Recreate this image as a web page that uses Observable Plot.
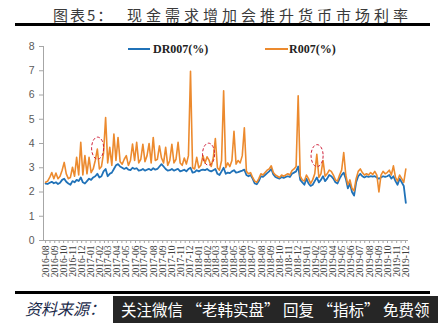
<!DOCTYPE html>
<html><head><meta charset="utf-8">
<script src="https://cdn.jsdelivr.net/npm/d3@7"></script>
<script src="https://cdn.jsdelivr.net/npm/@observablehq/plot@0.6"></script>
<style>
body{margin:0;width:438px;height:323px;position:relative;overflow:hidden;background:#fff;font-family:"Noto Sans CJK SC",sans-serif}
.abs{position:absolute;white-space:nowrap}
#t1{left:53px;top:5px;font-size:15px;letter-spacing:2px;color:#3a3a3a;line-height:19px}
#t2{left:127px;top:5px;font-size:15px;letter-spacing:4px;color:#3a3a3a;line-height:19px}
.rule{position:absolute;left:15px;width:415px;height:3px;background:#000}
#chart{position:absolute;left:0;top:28px}
.leg{position:absolute;font-family:"Liberation Serif",serif;font-weight:bold;font-size:12px;color:#222;top:42px;line-height:14px}
.legline{position:absolute;top:48px;height:2px}
#src{left:25px;top:298px;font-size:16px;font-style:italic;color:#1b2a4a;line-height:20px}
#box{position:absolute;left:113px;top:296px;width:325px;height:27px;background:#262626;color:#fff;font-size:15.5px;line-height:27px;padding-left:8px;box-sizing:border-box;white-space:nowrap}
</style></head><body>
<div class="abs" id="t1">图表5：</div>
<div class="abs" id="t2">现金需求增加会推升货币市场利率</div>
<div class="rule" style="top:23px"></div>
<div id="chart"></div>
<div class="legline" style="left:128px;width:22px;background:#2072B8"></div>
<div class="leg" style="left:153px">DR007(%)</div>
<div class="legline" style="left:265px;width:23px;background:#EC8A2E"></div>
<div class="leg" style="left:289px">R007(%)</div>
<div class="rule" style="top:291px"></div>
<div class="abs" id="src">资料来源：</div>
<div id="box">关注微信 “老韩实盘” 回复 “指标” 免费领</div>
<script>
// weekly readings, starting the week of 2016-08-01
const R007 = [
2.40,2.45,2.60,2.80,2.55,2.78,2.55,2.65,2.90,3.22,
2.75,2.55,2.60,3.02,2.65,3.43,2.70,4.05,2.70,3.50,
2.75,3.43,2.80,2.95,3.30,3.77,2.95,3.05,3.60,5.07,
3.20,3.84,3.10,4.39,3.30,4.25,3.25,3.15,3.35,3.50,
3.10,3.30,3.98,3.30,4.05,3.20,3.35,3.97,3.25,3.50,
4.00,3.20,4.25,3.30,3.35,3.90,3.40,3.20,3.84,3.10,
3.30,3.97,3.20,3.35,4.05,3.20,3.10,3.40,3.15,3.50,
6.98,3.00,2.95,3.43,3.00,3.10,3.50,3.20,3.45,3.30,
3.05,3.40,4.20,3.00,2.90,3.30,6.17,3.00,3.20,3.05,
3.30,4.50,3.15,3.30,3.20,3.50,4.65,2.85,2.75,2.80,
2.60,2.45,2.40,2.55,2.75,2.70,2.80,2.90,2.95,3.08,
2.80,2.70,2.65,2.60,2.70,2.65,2.70,2.75,2.70,2.88,
2.95,3.05,5.97,2.65,2.50,2.45,2.70,2.55,2.35,2.50,
2.75,3.55,2.60,2.75,3.30,2.65,2.75,2.90,2.85,2.70,
2.50,2.45,2.70,2.90,3.63,2.70,2.30,2.50,2.15,2.05,
2.55,2.85,2.95,2.80,2.70,2.75,2.70,2.80,2.72,2.85,
2.70,2.00,2.70,2.85,2.75,2.80,2.90,2.70,3.08,2.60,
2.45,2.70,2.55,2.40,2.95];
const DR007 = [
2.35,2.33,2.38,2.42,2.36,2.40,2.33,2.38,2.50,2.55,
2.42,2.35,2.30,2.45,2.40,2.50,2.45,2.60,2.40,2.35,
2.45,2.55,2.50,2.60,2.65,2.75,2.60,2.65,2.85,2.95,
2.65,2.75,2.80,2.95,3.10,3.15,3.05,3.00,2.95,3.00,
2.92,2.90,3.00,2.95,2.98,2.88,2.90,2.95,2.88,2.92,
2.95,2.90,2.98,2.92,2.95,3.05,3.15,3.05,2.95,2.88,
2.90,2.95,2.88,2.92,2.95,2.85,2.88,2.92,2.85,2.95,
3.00,2.80,2.82,2.90,2.85,2.90,2.92,2.90,2.95,2.88,
2.85,2.90,2.95,2.75,2.70,2.85,3.00,2.75,2.80,2.78,
2.85,2.90,2.80,2.82,2.85,2.88,2.92,2.70,2.65,2.70,
2.55,2.35,2.32,2.45,2.65,2.62,2.70,2.78,2.85,2.95,
2.72,2.62,2.58,2.55,2.62,2.58,2.62,2.65,2.62,2.75,
2.80,2.85,3.05,2.50,2.40,2.30,2.55,2.35,2.25,2.30,
2.45,2.60,2.40,2.50,2.65,2.45,2.55,2.70,2.65,2.55,
2.40,2.35,2.55,2.70,2.80,2.55,2.15,2.35,2.00,1.85,
2.40,2.65,2.75,2.65,2.60,2.65,2.62,2.65,2.63,2.65,
2.60,2.55,2.60,2.65,2.62,2.65,2.70,2.55,2.65,2.45,
2.30,2.55,2.40,2.25,1.55];
const weeks = d3.utcMonday.range(new Date(Date.UTC(2016,7,1)), new Date(Date.UTC(2020,0,1))).slice(0, R007.length);
const yTicks = [0,1,2,3,4,5,6,7,8];
const monthTicks = d3.utcMonth.range(new Date(Date.UTC(2016,7,1)), new Date(Date.UTC(2019,11,2)));
const annoDates = [new Date(Date.UTC(2017,0,24)), new Date(Date.UTC(2018,1,3)), new Date(Date.UTC(2019,1,5))];
const annoValues = [3.81, 3.56, 3.5];

const rows = weeks.map((d,i)=>({date:d, dr:DR007[i], r:R007[i]}));
const halfTicks = monthTicks.map(d => new Date(d.getTime() + 15*864e5)).filter(d => d < new Date(Date.UTC(2019,11,1)));
const allTicks = monthTicks.concat(halfTicks).sort((a,b)=>a-b);
const fmt = d3.utcFormat("%Y-%m");
const ellipse = {draw(ctx, size){
  const r = Math.sqrt(size/Math.PI), rx = r*0.55, ry = r, k = 0.5523;
  ctx.moveTo(rx,0);
  ctx.bezierCurveTo(rx, ry*k, rx*k, ry, 0, ry);
  ctx.bezierCurveTo(-rx*k, ry, -rx, ry*k, -rx, 0);
  ctx.bezierCurveTo(-rx, -ry*k, -rx*k, -ry, 0, -ry);
  ctx.bezierCurveTo(rx*k, -ry, rx, -ry*k, rx, 0);
  ctx.closePath();
}};
const x0 = new Date(Date.UTC(2016,6,25)), x1 = new Date(Date.UTC(2019,11,11));
const plot = Plot.plot({
  width: 438, height: 262,
  marginLeft: 43, marginRight: 30, marginTop: 18, marginBottom: 50,
  x: {type: "utc", domain: [x0, x1]},
  y: {domain: [0, 8]},
  style: {background: "transparent", overflow: "visible"},
  marks: [
    Plot.ruleY([0], {stroke: "#a6a6a6", strokeWidth: 1}),
    Plot.ruleX([x0], {stroke: "#a6a6a6", strokeWidth: 1, y1: 0, y2: 8}),
    Plot.axisY({ticks: yTicks, tickSize: 4, tickPadding: 5, stroke: "#a6a6a6", fill: "#595959", fontSize: 10.5, fontFamily: "Liberation Sans, Arial, sans-serif", label: null}),
    Plot.axisX({ticks: allTicks, tickFormat: d => d.getUTCDate() === 1 ? fmt(d) : "", tickRotate: -90, tickSize: 3, tickPadding: 2, stroke: "#a6a6a6", fill: "#404040", fontSize: 9.5, fontFamily: "Liberation Serif, serif", label: null}),
    Plot.line(rows, {x: "date", y: "dr", stroke: "#2072B8", strokeWidth: 1.8}),
    Plot.line(rows, {x: "date", y: "r", stroke: "#EC8A2E", strokeWidth: 1.6}),
    Plot.dot(annoDates.map((d,i)=>({date:d, v:annoValues[i]})), {x: "date", y: "v", r: 11, symbol: ellipse, stroke: "#d0203a", strokeWidth: 1, strokeDasharray: "3,2", fill: "none"})
  ]
});
document.getElementById("chart").appendChild(plot);
</script>
</body></html>
